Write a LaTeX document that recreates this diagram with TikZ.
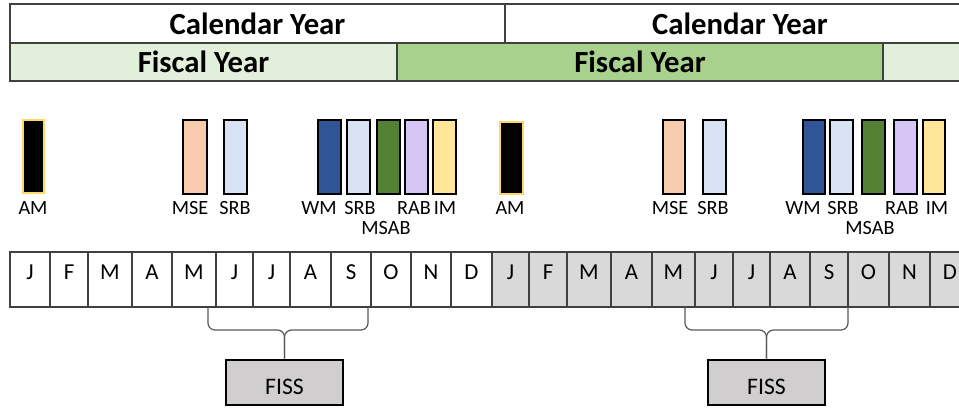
\documentclass[tikz,border=0pt]{standalone}
\usepackage{fontspec}
\setmainfont{Carlito}
\usetikzlibrary{positioning}

\definecolor{fyLight}{HTML}{E2EFDA}
\definecolor{fyMid}{HTML}{A9D18E}
\definecolor{amEdge}{HTML}{FFD966}
\definecolor{mseFill}{HTML}{F8CBAD}
\definecolor{srbFill}{HTML}{DAE3F3}
\definecolor{wmFill}{HTML}{2F5597}
\definecolor{msabFill}{HTML}{548235}
\definecolor{rabFill}{HTML}{D5C6F6}
\definecolor{imFill}{HTML}{FFE699}
\definecolor{monGray}{HTML}{D9D9D9}
\definecolor{fissGray}{HTML}{D0CECE}

\tikzset{
  hdr/.style={font=\fontsize{17.5}{20}\selectfont\bfseries, inner sep=0pt},
  hdrbox/.style={draw=black!75, line width=0.8pt},
  lbl/.style={font=\fontsize{11.5}{13}\selectfont, inner sep=0pt},
  month/.style={font=\fontsize{13}{15}\selectfont, inner sep=0pt},
  cell/.style={draw=black!75, line width=0.6pt},
  bar/.style={draw=black, line width=1.5pt},
  bracket/.style={draw=black!65, line width=0.7pt, rounded corners=4pt},
  fiss/.style={draw=black, line width=1.5pt, fill=fissGray,
    font=\fontsize{13.5}{15}\selectfont, minimum width=2.34cm, minimum height=0.9cm,
    text height=15pt, text depth=1pt}
}

\begin{document}
\begin{tikzpicture}[x=0.02cm,y=-0.02cm]
\clip (0,0) rectangle (959,407);

% year headers
\draw[hdrbox] (10,4) rectangle (505,43);
\draw[hdrbox] (505,4) rectangle (975,43);
\node[hdr] (calA) at (257.5,23.5) {Calendar Year};
\node[hdr] (calB) at (740,23.5) {Calendar Year};
\draw[hdrbox, fill=fyLight] (10,43) rectangle (397,81);
\draw[hdrbox, fill=fyMid] (397,43) rectangle (883,81);
\draw[hdrbox, fill=fyLight] (883,43) rectangle (975,81);
\node[hdr] (fisA) at (203.5,62) {Fiscal Year};
\node[hdr] (fisB) at (640,62) {Fiscal Year};

% meeting bars
\draw[line width=1pt, draw=amEdge, fill=black] (23,120) rectangle (44,193);
\draw[line width=1pt, draw=amEdge, fill=black] (500,122) rectangle (523,194);
\foreach \l/\r/\c in {183/207/mseFill, 224/247/srbFill, 318/341/wmFill,
    347/370/srbFill, 377/400/msabFill, 405/428/rabFill, 433/456/imFill,
    663/685/mseFill, 703/726/srbFill, 803/825/wmFill, 830/853/srbFill,
    862/885/msabFill, 894/917/rabFill, 923/945/imFill}
  \draw[bar, fill=\c] (\l,120) rectangle (\r,194);

% bar labels
\foreach \x/\t [count=\i] in {33/AM, 190/MSE, 235/SRB, 319/WM, 360/SRB, 414/RAB, 445/IM,
    510/AM, 670/MSE, 713/SRB, 803/WM, 843/SRB, 902/RAB, 937/IM}
  \node[lbl] (lb\i) at (\x,208) {\t};
\node[lbl] (msabA) at (386,228) {MSAB};
\node[lbl] (msabB) at (870,228) {MSAB};

% months
\foreach \l/\r/\m [count=\i] in {10/50/J, 50/88/F, 88/132/M, 132/172/A, 172/216/M,
    216/253/J, 253/290/J, 290/331/A, 331/371/S, 371/411/O, 411/451/N, 451/492/D} {
  \draw[cell] (\l,252) rectangle (\r,307);
  \node[month] (mA\i) at ({(\l+\r)/2},272) {\m};
}
\foreach \l/\r/\m [count=\i] in {492/529/J, 529/567/F, 567/611/M, 611/652/A, 652/695/M,
    695/733/J, 733/770/J, 770/810/A, 810/848/S, 848/889/O, 889/930/N, 930/970/D} {
  \draw[cell, fill=monGray] (\l,252) rectangle (\r,307);
  \node[month] (mB\i) at ({(\l+\r)/2},272) {\m};
}

% FISS windows
\node[fiss] (fissA) at (284.5,382.5) {FISS};
\node[fiss] (fissB) at (766.5,382.5) {FISS};
\coordinate (brA1) at (208,307);
\coordinate (brA2) at (368,307);
\coordinate (brB1) at (685,307);
\coordinate (brB2) at (848,307);
\draw[bracket] (brA1) -- ++(0,23) -| (fissA.north);
\draw[bracket] (brA2) -- ++(0,23) -| (fissA.north);
\draw[bracket] (brB1) -- ++(0,23) -| (fissB.north);
\draw[bracket] (brB2) -- ++(0,23) -| (fissB.north);
\end{tikzpicture}
\end{document}
